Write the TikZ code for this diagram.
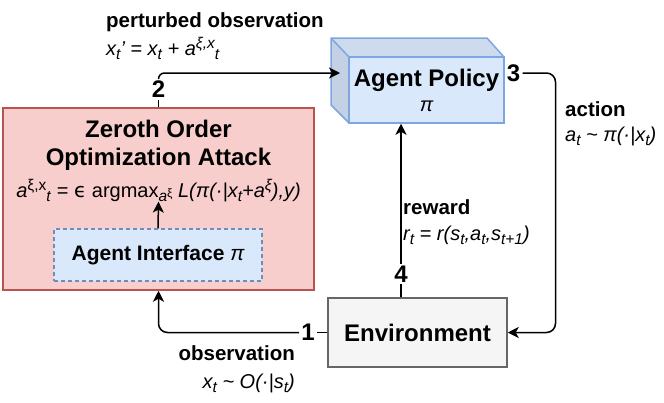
\documentclass[tikz,border=0pt]{standalone}
\usepackage{fontspec}
\setmainfont{Liberation Sans}
\newfontfamily\symfont{DejaVu Sans}
\usetikzlibrary{arrows.meta, calc}

\definecolor{attackfill}{HTML}{F8CECC}
\definecolor{attackline}{HTML}{B85450}
\definecolor{bluefill}{HTML}{DAE8FC}
\definecolor{blueline}{HTML}{6C8EBF}
\definecolor{cubeline}{HTML}{7EA6E0}
\definecolor{cubetop}{HTML}{CEDBEE}
\definecolor{cubeside}{HTML}{C4D0E3}
\definecolor{envfill}{HTML}{F5F5F5}
\definecolor{envline}{HTML}{666666}

% sub- and superscripts as the labels print them
\newcommand{\lowtx}[1]{\raisebox{-4pt}{\fontsize{15.5}{16}\selectfont #1}}
\newcommand{\hightx}[1]{\raisebox{7pt}{\fontsize{15.5}{16}\selectfont #1}}

\tikzset{
  flow/.style={-{Stealth[length=11pt,width=11pt,inset=3pt]}, line width=1.5pt, rounded corners=9pt},
  plain/.style={line width=1.5pt},
  num/.style={font=\fontsize{24}{24}\selectfont\bfseries, inner sep=2pt},
  title/.style={font=\fontsize{24}{28}\selectfont\bfseries, align=center, inner sep=0pt},
  lblname/.style={font=\fontsize{20.5}{24}\selectfont\bfseries, inner sep=0pt},
  lblmath/.style={font=\fontsize{20}{24}\selectfont\itshape, inner sep=0pt},
}

\begin{document}
\begin{tikzpicture}[x=1pt, y=-1pt]

    \useasboundingbox (0,0) rectangle (664,402);

    % Agent policy cube
    \fill[cubeside] (331,38) -- (349,57) -- (349,123) -- (331,105) -- cycle;
    \fill[cubetop] (331,38) -- (487,38) -- (504,57) -- (349,57) -- cycle;
    \node[draw=cubeline, fill=bluefill, line width=1.5pt, minimum width=155pt, minimum height=66pt,
          title, text depth=0pt] (policy) at (426.5,90)
          {Agent Policy\\[-3pt]{\fontsize{20}{20}\mdseries\itshape π}};
    \draw[cubeline, line width=1.5pt, line join=round]
          (349,57) -- (331,38) -- (487,38) -- (504,57) (331,38) -- (331,105) -- (349,123);

    % Attack box
    \node[draw=attackline, fill=attackfill, line width=1.5pt, minimum width=311pt, minimum height=182pt] (attack) at (158.5,199) {};
    \node[title, anchor=north] (atktitle) at (158.5,119.5) {Zeroth Order\\Optimization Attack};
    \node[font=\fontsize{20}{24}\selectfont, inner sep=0pt, anchor=base] (atkformula) at (158.5,197)
          {\textit{a}\hightx{ξ,x}\lowtx{\textit{t}} = {\symfont ϵ} argmax\lowtx{\textit{a}\raisebox{4pt}{\fontsize{12}{12}\selectfont ξ}} \textit{L(π(·|x\lowtx{t}+a\hightx{ξ}),y)}};
    \node[draw=blueline, fill=bluefill, line width=1.5pt, dash pattern=on 4pt off 3pt,
          minimum width=208pt, minimum height=52pt, font=\fontsize{21}{24}\selectfont\bfseries] (iface) at (158,255)
          {Agent Interface {\mdseries\itshape π}};
    \draw[flow] (iface.north) -- (atkformula.south);

    % Environment
    \node[draw=envline, fill=envfill, line width=1.5pt, minimum width=179pt, minimum height=69pt,
          font=\fontsize{24}{24}\selectfont\bfseries] (env) at (417.5,332.5) {Environment};

    % Numbered connectors
    \coordinate (pin) at (340,73);
    \coordinate (pout) at ([yshift=17pt]policy.east);

    \node[num] (n1) at (308,332.5) {1};
    \draw[plain] (env.west) -- (n1);
    \draw[flow] (n1) -| (attack.south);

    \node[num] (n2) at (158.5,89) {2};
    \draw[plain] (attack.north) -- (n2);
    \draw[flow, rounded corners=6pt] (n2) |- (pin);

    \node[num, anchor=west] (n3) at (pout) {3};
    \draw[flow] (n3) -- (555.5,73) |- (env.east);

    \node[num] (n4) at (401,274) {4};
    \draw[plain] (n4 |- env.north) -- (n4);
    \draw[flow] (n4) -- (n4 |- policy.south);

    % Labels
    \node[lblname, anchor=base west] (pertname) at (106,27) {perturbed observation};
    \node[lblmath, anchor=base west] (pertmath) at (106,55)
          {x\lowtx{t}' = x\lowtx{t} + a\hightx{ξ,x}\lowtx{t}};

    \node[lblname, anchor=base west] (actname) at (565,116) {action};
    \node[lblmath, anchor=base west] (actmath) at (565,141)
          {a\lowtx{t} \textasciitilde{} π(·|x\lowtx{t})};

    \node[lblname, anchor=base west] (rewname) at (403,214) {reward};
    \node[lblmath, anchor=base west] (rewmath) at (403,240)
          {r\lowtx{t} = r(s\lowtx{t},a\lowtx{t},s\lowtx{t+1})};

    \node[lblname, anchor=base east] (obsname) at (295,360) {observation};
    \node[lblmath, anchor=base east] (obsmath) at (295,388)
          {x\lowtx{t} \textasciitilde{} O(·|s\lowtx{t})};

\end{tikzpicture}
\end{document}
